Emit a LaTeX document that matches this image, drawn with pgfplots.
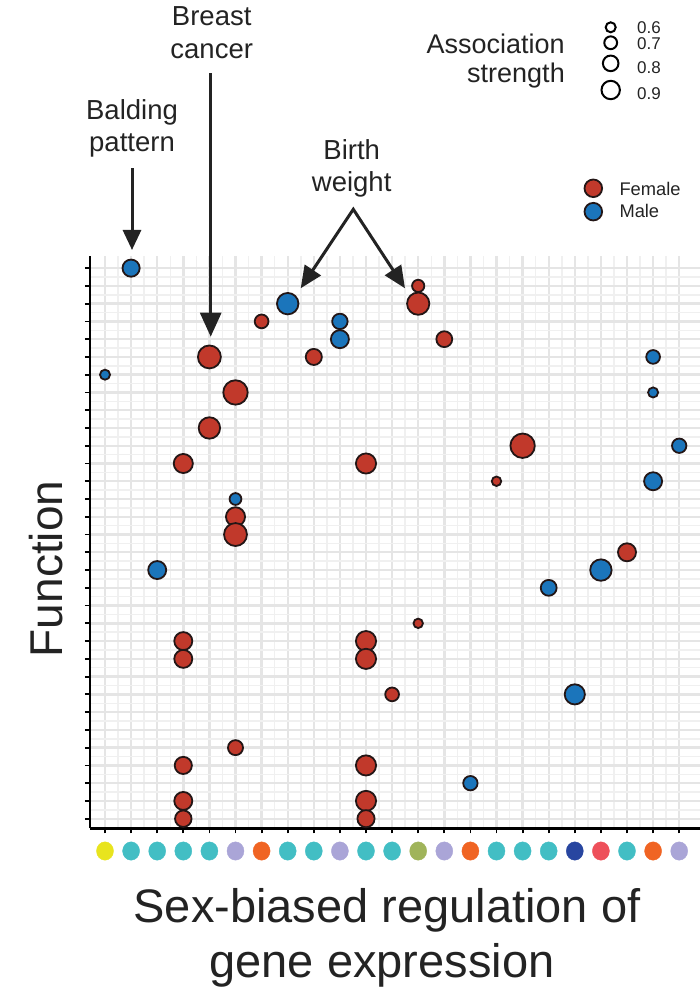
\documentclass[border=0pt]{standalone}
\usepackage{fontspec}
\setmainfont{Liberation Sans}
\usepackage{pgfplots}
\pgfplotsset{compat=1.18}
\usepackage{pgfplotstable}
\usetikzlibrary{arrows.meta}
\definecolor{femc}{RGB}{193,57,43}
\definecolor{malc}{RGB}{27,117,187}
\definecolor{edgec}{RGB}{35,22,22}
\definecolor{cY}{RGB}{232,228,30}
\definecolor{cT}{RGB}{66,190,196}
\definecolor{cL}{RGB}{170,165,215}
\definecolor{cO}{RGB}{240,100,35}
\definecolor{cG}{RGB}{160,180,90}
\definecolor{cB}{RGB}{40,70,160}
\definecolor{cP}{RGB}{238,80,90}
\definecolor{gridmaj}{RGB}{229,229,229}
\definecolor{gridmin}{RGB}{240,240,240}
\definecolor{txtc}{RGB}{35,35,35}

\pgfplotstableread{
x y r
7 29 6.7
5 27 11
9 27 7.8
6 25 11.7
5 23 10.3
4 21 9.2
11 21 9.7
6 18 9.2
6 17 11
4 11 8.7
4 10 8.7
11 11 9.7
11 10 9.7
6 5 7.3
4 4 8.3
11 4 9.7
4 2 8.7
4 1 8
11 2 9.7
11 1 8.3
13 31 6
13 30 10.7
14 28 7.7
17 22 11.7
16 20 4.7
21 16 8.7
13 12 4.7
12 8 6.7
}\fem

\pgfplotstableread{
x y r
2 32 8.3
8 30 10.3
10 29 7.5
10 28 8.7
1 26 5
6 19 5.8
3 15 8.7
22 27 6.7
22 25 5
23 22 7
22 20 8.7
20 15 10.3
18 14 7.7
19 8 9.7
15 3 7
}\mal

\pgfplotstableread{
x y c
1 -0.82 Y
2 -0.82 T
3 -0.82 T
4 -0.82 T
5 -0.82 T
6 -0.82 L
7 -0.82 O
8 -0.82 T
9 -0.82 T
10 -0.82 L
11 -0.82 T
12 -0.82 T
13 -0.82 G
14 -0.82 L
15 -0.82 O
16 -0.82 T
17 -0.82 T
18 -0.82 T
19 -0.82 B
20 -0.82 P
21 -0.82 T
22 -0.82 O
23 -0.82 L
}\cats

\pgfplotstableread{
x y r
20.375 45.56 6.0
20.375 44.69 7.4
20.375 43.53 8.8
20.375 42.03 10.2
}\sizeleg

\begin{document}
\begin{tikzpicture}
\path[use as bounding box] (-90pt,-159.7pt) rectangle (610pt,828.3pt);
\begin{axis}[at={(0pt,0pt)}, anchor=south west,
  x=26.1pt, y=17.76pt,
  xmin=0.4253, xmax=23.78, ymin=0.4595, ymax=32.68,
  axis x line*=bottom, axis y line*=left,
  axis line style={line width=2.5pt, black, -},
  xtick={1,...,23}, ytick={1,...,32},
  xticklabels={}, yticklabels={},
  tick align=outside, major tick length=5pt,
  tick style={line width=1.8pt, black},
  minor x tick num=1, minor y tick num=1, minor tick length=0pt,
  grid=both,
  major grid style={line width=2.4pt, draw=gridmaj},
  minor grid style={line width=1.5pt, draw=gridmin},
  clip=false]
\addplot[scatter, only marks, mark=*, line width=1.8pt,
  scatter/use mapped color={draw=edgec, fill=femc},
  point meta=\thisrow{r},
  visualization depends on={\thisrow{r}*1.07-0.3 \as \rad},
  scatter/@pre marker code/.append style={/tikz/mark size=\rad pt}]
  table[x=x,y=y] {\fem};
\addplot[scatter, only marks, mark=*, line width=1.8pt,
  scatter/use mapped color={draw=edgec, fill=malc},
  point meta=\thisrow{r},
  visualization depends on={\thisrow{r}*1.07-0.3 \as \rad},
  scatter/@pre marker code/.append style={/tikz/mark size=\rad pt}]
  table[x=x,y=y] {\mal};
\addplot[scatter, only marks, mark=*, mark size=8.5pt,
  mark options={yscale=1.08},
  point meta=explicit symbolic,
  scatter/classes={Y={draw=cY,fill=cY}, T={draw=cT,fill=cT}, L={draw=cL,fill=cL},
    O={draw=cO,fill=cO}, G={draw=cG,fill=cG}, B={draw=cB,fill=cB}, P={draw=cP,fill=cP}}]
  table[x=x,y=y,meta=c] {\cats};
% size legend
\addplot[scatter, only marks, mark=*, line width=2pt,
  scatter/use mapped color={draw=black, fill=white},
  point meta=\thisrow{r},
  visualization depends on={\thisrow{r}-1.0 \as \rad},
  scatter/@pre marker code/.append style={/tikz/mark size=\rad pt}]
  table[x=x,y=y] {\sizeleg};
% sex legend
\addplot[only marks, mark=*, mark size=8.8pt, line width=1.8pt, draw=edgec, fill=femc]
  coordinates {(19.709,36.496)};
\addplot[only marks, mark=*, mark size=8.8pt, line width=1.8pt, draw=edgec, fill=malc]
  coordinates {(19.709,35.18)};
\end{axis}

% annotation arrows
\draw[line width=3pt, draw=txtc, -{Triangle[length=20pt,width=18pt]}] (42pt,660pt) -- (42pt,578.3pt);
\draw[line width=3pt, draw=txtc, -{Triangle[length=24pt,width=21pt]}] (120.7pt,755pt) -- (120.7pt,491.6pt);
\draw[line width=3pt, draw=txtc, line join=miter, {Triangle[length=22pt,width=19pt]}-{Triangle[length=22pt,width=19pt]}] (210.7pt,540pt) -- (263.3pt,619pt) -- (315pt,540pt);

% labels
\node[anchor=base, text=txtc, font=\fontsize{27.5}{33}\selectfont] at (121.7pt,802.3pt) {Breast};
\node[anchor=base, text=txtc, font=\fontsize{27.5}{33}\selectfont] at (121.7pt,770pt) {cancer};
\node[anchor=base, text=txtc, font=\fontsize{27.5}{33}\selectfont] at (42pt,708.3pt) {Balding};
\node[anchor=base, text=txtc, font=\fontsize{27.5}{33}\selectfont] at (42pt,676.6pt) {pattern};
\node[anchor=base, text=txtc, font=\fontsize{27.5}{33}\selectfont] at (261.7pt,669pt) {Birth};
\node[anchor=base, text=txtc, font=\fontsize{27.5}{33}\selectfont] at (261.7pt,636.6pt) {weight};
\node[anchor=base east, text=txtc, font=\fontsize{27}{32}\selectfont] at (478.3pt,775pt) {Association};
\node[anchor=base east, text=txtc, font=\fontsize{27}{32}\selectfont] at (478.3pt,745.3pt) {strength};
\node[anchor=base west, text=txtc, font=\fontsize{17}{20}\selectfont, inner sep=0pt] at (547pt,795pt) {0.6};
\node[anchor=base west, text=txtc, font=\fontsize{17}{20}\selectfont, inner sep=0pt] at (547pt,779pt) {0.7};
\node[anchor=base west, text=txtc, font=\fontsize{17}{20}\selectfont, inner sep=0pt] at (547pt,755pt) {0.8};
\node[anchor=base west, text=txtc, font=\fontsize{17}{20}\selectfont, inner sep=0pt] at (547pt,729pt) {0.9};
\node[anchor=base west, text=txtc, font=\fontsize{18.3}{22}\selectfont, inner sep=0pt] at (529.3pt,632.3pt) {Female};
\node[anchor=base west, text=txtc, font=\fontsize{18.3}{22}\selectfont, inner sep=0pt] at (529.3pt,610.6pt) {Male};
\node[anchor=base, rotate=90, text=txtc, font=\fontsize{46}{54}\selectfont, inner sep=0pt] at (-27pt,259.3pt) {Function};
\node[anchor=base, text=txtc, font=\fontsize{47}{55}\selectfont, inner sep=0pt] at (297pt,-93.7pt) {Sex-biased regulation of};
\node[anchor=base, text=txtc, font=\fontsize{47}{55}\selectfont, inner sep=0pt] at (292pt,-149.2pt) {gene expression};
\end{tikzpicture}
\end{document}
